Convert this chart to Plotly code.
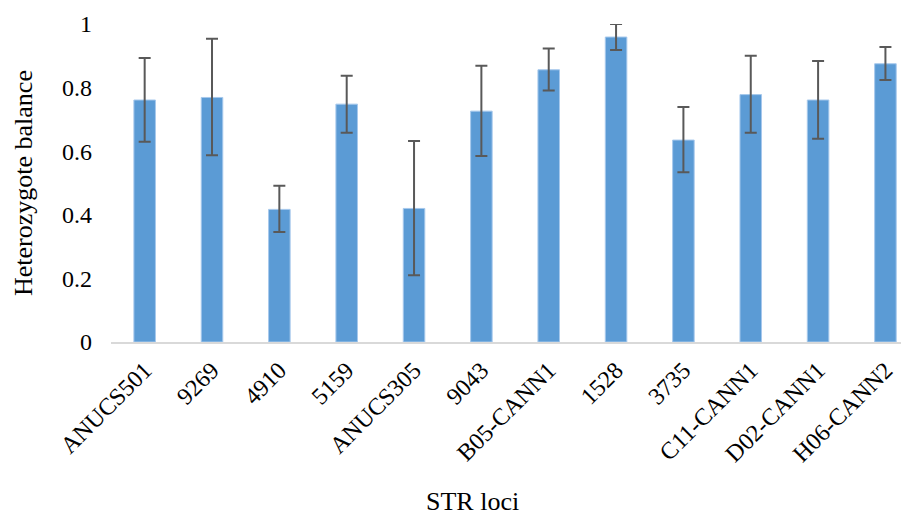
import plotly.graph_objects as go

loci = ["ANUCS501", "9269", "4910", "5159", "ANUCS305", "9043", "B05-CANN1",
        "1528", "3735", "C11-CANN1", "D02-CANN1", "H06-CANN2"]
balance = [0.761, 0.769, 0.417, 0.748, 0.420, 0.726, 0.856, 0.959, 0.635, 0.778, 0.761, 0.875]
err_upper = [0.893, 0.954, 0.491, 0.837, 0.632, 0.869, 0.923, 1.000, 0.739, 0.900, 0.884, 0.928]
err_lower = [0.630, 0.587, 0.346, 0.658, 0.210, 0.585, 0.791, 0.918, 0.534, 0.658, 0.639, 0.824]
y_ticks = [0, 0.2, 0.4, 0.6, 0.8, 1]
y_tick_text = ["0", "0.2", "0.4", "0.6", "0.8", "1"]

plus = [u - v for u, v in zip(err_upper, balance)]
minus = [v - l for v, l in zip(balance, err_lower)]

FONT = "Liberation Serif"
# page body has an 8px default margin; compensate so the chart lands where the reference has it
OFF = 8
W, H = 909 - OFF, 513 - OFF
L, T, PH = 111 - OFF, 24 - OFF, 318
PW = W - L

fig = go.Figure()
fig.add_trace(go.Bar(
    x=loci, y=balance,
    marker=dict(color="#5B9BD5", line=dict(color="#a6c8ec", width=1)),
    error_y=dict(type="data", symmetric=False, array=plus, arrayminus=minus,
                 color="#595959", thickness=2, width=6),
    cliponaxis=False,
    showlegend=False,
))

fig.update_layout(
    width=W, height=H,
    margin=dict(l=L, r=0, t=T, b=H - T - PH),
    plot_bgcolor="white", paper_bgcolor="white",
    bargap=0.68,
    font=dict(family=FONT, size=24, color="black"),
    xaxis=dict(
        range=[-0.5, 11.35], showline=True, linecolor="#d9d9d9", linewidth=1.5,
        showgrid=False, tickangle=-45, ticks="", ticklabelstandoff=3,
        automargin=False,
        tickfont=dict(family=FONT, size=24, color="black"),
    ),
    yaxis=dict(
        range=[0, 1], showline=False, showgrid=False, zeroline=False,
        tickvals=y_ticks, ticktext=y_tick_text, ticks="", ticklabelstandoff=18,
        automargin=False,
        tickfont=dict(family=FONT, size=24, color="black"),
    ),
    annotations=[
        dict(text="Heterozygote balance", xref="paper", yref="paper",
             x=(23 - 111) / PW, y=0.5, textangle=-90, showarrow=False,
             xanchor="center", yanchor="middle",
             font=dict(family=FONT, size=26, color="black")),
        dict(text="STR loci", xref="paper", yref="paper",
             x=(472 - 111) / PW, y=-(501 - 342) / PH, showarrow=False,
             xanchor="center", yanchor="middle",
             font=dict(family=FONT, size=26, color="black")),
    ],
)

fig.write_html("out.html")
